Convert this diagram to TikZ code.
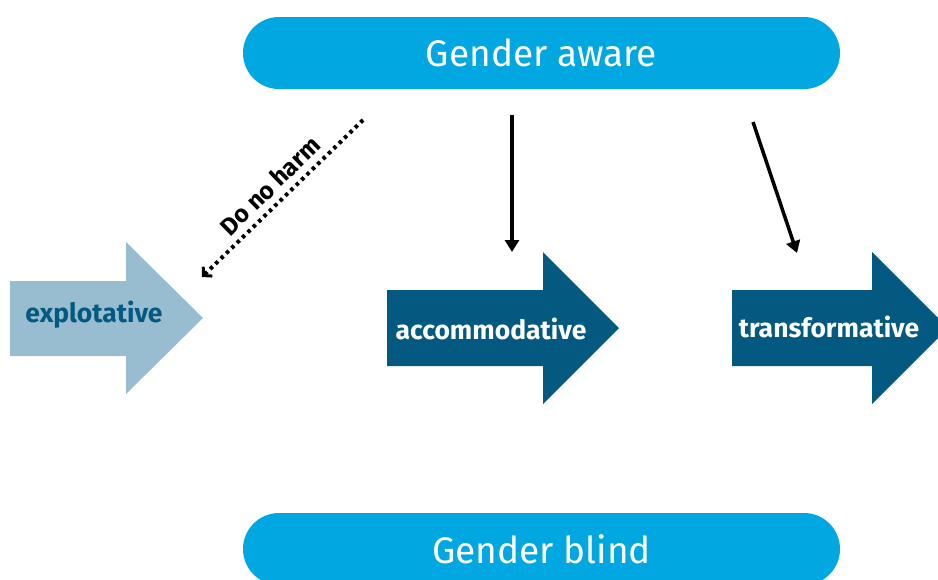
\documentclass[tikz,border=0pt]{standalone}
\usepackage{fontspec}
\setmainfont{Fira Sans}
\usepackage{xcolor}
\usetikzlibrary{arrows.meta}

\definecolor{pillblue}{RGB}{0,167,225}
\definecolor{deepblue}{RGB}{3,89,128}
\definecolor{paleblue}{RGB}{152,189,208}

\begin{document}
\begin{tikzpicture}[
  x=1pt, y=-1pt,
  every node/.style={font=\fontsize{26.5}{31}\selectfont\bfseries},
  pill/.style   ={rectangle, fill=pillblue, rounded corners=36pt, text=white,
                  minimum width=597pt, minimum height=72pt,
                  font=\fontsize{37}{44}\selectfont},
  link/.style   ={-{Triangle[length=12pt,width=14pt]}, line width=3.5pt},
  dotlink/.style={-{Straight Barb[length=6pt,width=13pt,line width=3pt]},
                  line width=4pt, dash pattern=on 3.5pt off 4pt}
]
\clip (0,0) rectangle (938,579);

\node[pill] (aware) at (541.5,53) {Gender aware};
\node[pill] (blind) at (541.5,549) {Gender blind};

% block arrows
\fill[paleblue] (10,281) -- (126,281) -- (126,242) -- (203,318) -- (126,394)
  -- (126,356) -- (10,356) -- cycle;
\fill[deepblue] (387,290) -- (543,290) -- (543,252) -- (619,328) -- (543,404)
  -- (543,366) -- (387,366) -- cycle;
\fill[deepblue] (732,290) -- (872,290) -- (872,252) -- (948,328) -- (872,404)
  -- (872,366) -- (732,366) -- cycle;

\node[text=deepblue] (explt)  at (94,314.5) {explotative};
\node[text=white]    (accom)  at (491,328.5) {accommodative};
\node[text=white]    (transf) at (829,326.5) {transformative};

\coordinate (harmstart) at (363,120);
\coordinate (harmend)   at (202,277);
\coordinate (accstart)  at (512,115);
\coordinate (accend)    at (512,252);
\coordinate (trfstart)  at (753,122);
\coordinate (trfend)    at (797,253);

\draw[dotlink] (harmstart) -- node[sloped, above=3pt, font=\fontsize{24.5}{29}\selectfont\bfseries] (harm) {Do no harm} (harmend);
\draw[link] (accstart) -- (accend);
\draw[link] (trfstart) -- (trfend);
\end{tikzpicture}
\end{document}
